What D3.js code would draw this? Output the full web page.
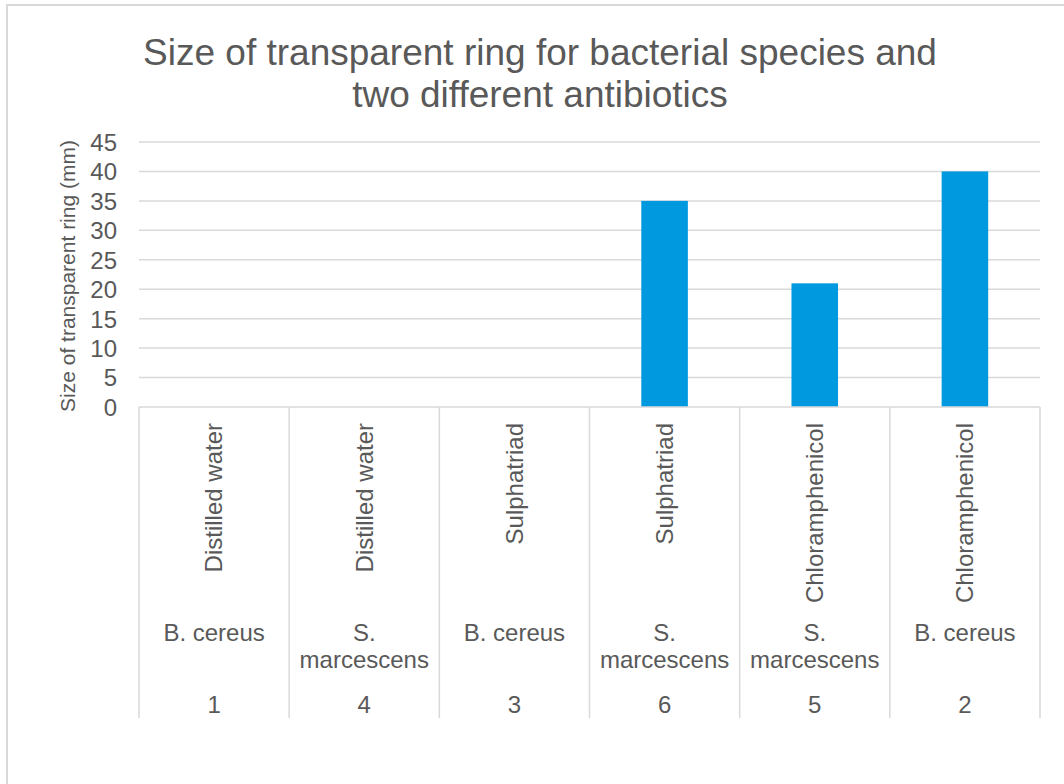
<!DOCTYPE html>
<html>
<head>
<meta charset="utf-8">
<script src="https://cdn.jsdelivr.net/npm/d3@7"></script>
<style>
  html, body { margin: 0; padding: 0; background: #fff; }
  svg { display: block; font-family: "Liberation Sans", Arial, sans-serif; }
</style>
</head>
<body>
<svg id="chart" width="1064" height="784"></svg>
<script>
// ---- Data ----
const treatments = ["Distilled water", "Distilled water", "Sulphatriad", "Sulphatriad", "Chloramphenicol", "Chloramphenicol"];
const species = [["B. cereus"], ["S.", "marcescens"], ["B. cereus"], ["S.", "marcescens"], ["S.", "marcescens"], ["B. cereus"]];
const sampleIds = ["1", "4", "3", "6", "5", "2"];
const ringSizes = [0, 0, 0, 35, 21, 40];
const yTicks = [0, 5, 10, 15, 20, 25, 30, 35, 40, 45];
const titleLines = ["Size of transparent ring for bacterial species and", "two different antibiotics"];
const yAxisTitle = "Size of transparent ring (mm)";

// ---- Layout ----
const plot = { left: 139, right: 1040, top: 142, bottom: 407 };
const textColor = "#595959";
const gridColor = "#d9d9d9";
const barColor = "#0099e0";

const svg = d3.select("#chart");

// outer chart frame
svg.append("rect")
  .attr("x", 7).attr("y", 5)
  .attr("width", 1100).attr("height", 820)
  .attr("fill", "#fff")
  .attr("stroke", gridColor).attr("stroke-width", 2);

const idx = d3.range(treatments.length);
const x = d3.scaleBand().domain(idx).range([plot.left, plot.right]).paddingInner(0).paddingOuter(0);
const y = d3.scaleLinear().domain([0, 45]).range([plot.bottom, plot.top]);

// title
svg.append("text")
  .attr("x", 540).attr("y", 65)
  .attr("text-anchor", "middle")
  .attr("fill", textColor)
  .attr("font-size", 37)
  .selectAll("tspan").data(titleLines).join("tspan")
  .attr("x", 540)
  .attr("dy", (d, i) => i === 0 ? 0 : 42)
  .text(d => d);

// gridlines
svg.append("g")
  .selectAll("line").data(yTicks.filter(t => t > 0)).join("line")
  .attr("x1", plot.left).attr("x2", plot.right)
  .attr("y1", d => y(d)).attr("y2", d => y(d))
  .attr("stroke", gridColor).attr("stroke-width", 1.5);

// y axis labels
const yAxis = d3.axisLeft(y).tickValues(yTicks).tickSize(0).tickPadding(0);
const yg = svg.append("g").attr("transform", `translate(${plot.left - 22},0)`).call(yAxis);
yg.select(".domain").remove();
yg.selectAll("text")
  .attr("fill", textColor)
  .attr("font-size", 24)
  .attr("font-family", "Liberation Sans, Arial, sans-serif")
  .attr("dy", "0.35em");

// y axis title
svg.append("text")
  .attr("transform", `translate(${75},${276}) rotate(-90)`)
  .attr("text-anchor", "middle")
  .attr("fill", textColor)
  .attr("font-size", 21)
  .text(yAxisTitle);

// bars
const bw = x.bandwidth() * 0.31;
svg.append("g")
  .selectAll("rect").data(idx).join("rect")
  .attr("x", i => x(i) + (x.bandwidth() - bw) / 2)
  .attr("width", bw)
  .attr("y", i => y(ringSizes[i]))
  .attr("height", i => y(0) - y(ringSizes[i]))
  .attr("fill", barColor);

// category axis baseline
svg.append("line")
  .attr("x1", plot.left).attr("x2", plot.right)
  .attr("y1", y(0)).attr("y2", y(0))
  .attr("stroke", gridColor).attr("stroke-width", 1.5);

// category dividers
const axisBottom = 718;
const bounds = idx.map(i => x(i)).concat([x(idx[idx.length - 1]) + x.bandwidth()]);
svg.append("g")
  .selectAll("line").data(bounds).join("line")
  .attr("x1", d => d).attr("x2", d => d)
  .attr("y1", y(0)).attr("y2", axisBottom)
  .attr("stroke", gridColor).attr("stroke-width", 1.5);

// level 1: rotated treatment labels
svg.append("g")
  .selectAll("text").data(idx).join("text")
  .attr("transform", i => `translate(${x(i) + x.bandwidth() / 2},423) rotate(-90)`)
  .attr("text-anchor", "end")
  .attr("dy", "0.35em")
  .attr("fill", textColor)
  .attr("font-size", 24)
  .text(i => treatments[i]);

// level 2: species
svg.append("g")
  .selectAll("text").data(idx).join("text")
  .attr("x", i => x(i) + x.bandwidth() / 2)
  .attr("y", 641)
  .attr("text-anchor", "middle")
  .attr("fill", textColor)
  .attr("font-size", 24)
  .each(function(i) {
    d3.select(this).selectAll("tspan").data(species[i]).join("tspan")
      .attr("x", x(i) + x.bandwidth() / 2)
      .attr("dy", (d, k) => k === 0 ? 0 : 27)
      .text(d => d);
  });

// level 3: sample ids
svg.append("g")
  .selectAll("text").data(idx).join("text")
  .attr("x", i => x(i) + x.bandwidth() / 2)
  .attr("y", 713)
  .attr("text-anchor", "middle")
  .attr("fill", textColor)
  .attr("font-size", 24)
  .text(i => sampleIds[i]);
</script>
</body>
</html>
